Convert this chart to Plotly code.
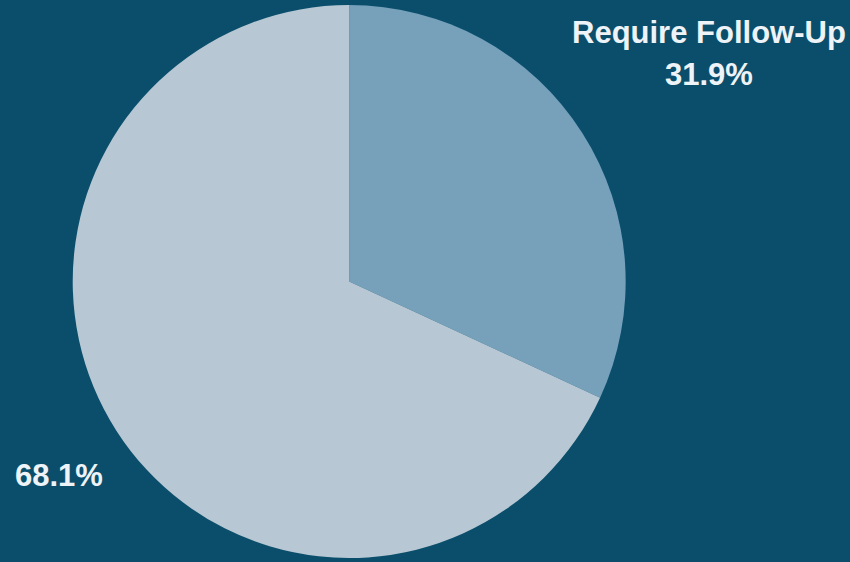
import plotly.graph_objects as go

labels = ["Require Follow-Up", ""]
values = [31.9, 68.1]
colors = ["#77a1bb", "#b7c8d4"]
bg = "#0b4e6b"

fig = go.Figure()
fig.add_trace(go.Pie(
    labels=["Require Follow-Up", "No Follow-Up"],
    values=values,
    sort=False,
    direction="clockwise",
    rotation=0,
    marker=dict(colors=colors, line=dict(width=0)),
    textinfo="none",
    hoverinfo="label+percent",
    showlegend=False,
    domain=dict(x=[0.0855, 0.7361], y=[0.0071, 0.991]),
))

font = dict(family="Liberation Sans, Arial, sans-serif", size=31, color="#eef3f8")
fig.add_annotation(x=708.5/850, y=1-33/562, xref="paper", yref="paper",
                   text="<b>%s</b>" % labels[0], showarrow=False, font=font,
                   xanchor="center", yanchor="middle")
fig.add_annotation(x=708.5/850, y=1-75/562, xref="paper", yref="paper",
                   text="<b>%.1f%%</b>" % values[0], showarrow=False, font=font,
                   xanchor="center", yanchor="middle")
fig.add_annotation(x=59/850, y=1-475/562, xref="paper", yref="paper",
                   text="<b>%.1f%%</b>" % values[1], showarrow=False, font=font,
                   xanchor="center", yanchor="middle")

fig.update_layout(
    width=850, height=562,
    margin=dict(l=0, r=0, t=0, b=0),
    paper_bgcolor=bg, plot_bgcolor=bg,
)
fig.write_html("out.html")
